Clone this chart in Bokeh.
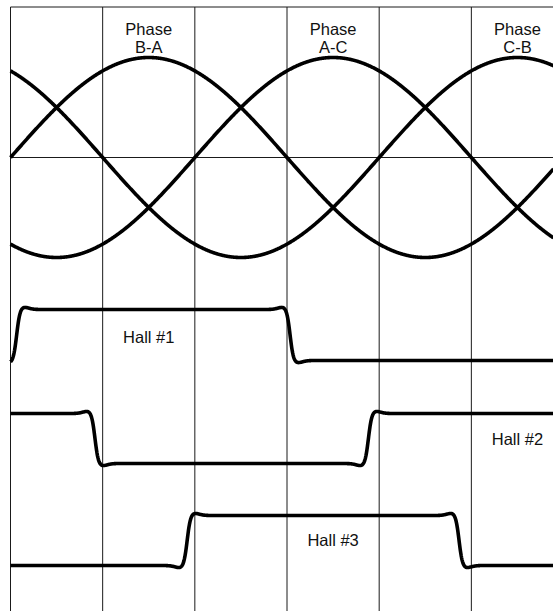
import numpy as np
from bokeh.plotting import figure
from bokeh.models import Range1d
from bokeh.embed import file_html
from bokeh.resources import INLINE
from bokeh.core.properties import value

# ---- data -------------------------------------------------------------
grid_angles = [0, 60, 120, 180, 240, 300]          # vertical grid lines (electrical degrees)
phase_names = ["B-A", "A-C", "C-B"]
phase_peak_deg = [90, 210, 330]                     # angle of each phase's positive peak
phase_amplitude = 1.0

hall_names = ["Hall #1", "Hall #2", "Hall #3"]
hall_high = [-1.52, -2.56, -3.58]
hall_low = [-2.03, -3.06, -4.08]
hall_start_high = [False, True, False]
hall_edges = [[4, 182], [55, 233], [115, 292]]      # transition angles
hall_label_x = [90, 330, 210]
hall_label_y = [-1.79, -2.81, -3.82]

phase_label_top_y = 1.29
phase_label_bot_y = 1.11
top_border_y = 1.505
zero_line_y = 0.0

# ---- figure -----------------------------------------------------------
W, H = 553, 611
PX_PER_DEG = 92.17 / 60.0
x0 = -10 / PX_PER_DEG
x1 = x0 + W / PX_PER_DEG
y_top = 1.57
y_bot = y_top - H / 100.0
p = figure(width=W, height=H,
           x_range=Range1d(x0, x1),
           y_range=Range1d(y_bot, y_top),
           x_axis_location=None, y_axis_location=None,
           min_border=0, min_border_left=0, min_border_right=0,
           min_border_top=0, min_border_bottom=0,
           output_backend="svg", toolbar_location=None, title=None)
p.grid.visible = False
p.outline_line_color = None
p.background_fill_color = "white"
p.border_fill_color = "white"

# grid
n = len(grid_angles)
p.segment(x0=grid_angles, y0=[top_border_y] * n, x1=grid_angles, y1=[y_bot - 1] * n,
          line_color="#1a1a1a", line_width=1)
p.segment(x0=[0, 0], y0=[top_border_y, zero_line_y], x1=[x1 + 10, x1 + 10],
          y1=[top_border_y, zero_line_y], line_color="#1a1a1a", line_width=1)

theta = np.linspace(0, x1, 1200)

# phase curves
for pk in phase_peak_deg:
    y = phase_amplitude * np.sin(np.radians(theta - pk + 90))
    p.line(theta, y, line_color="black", line_width=3.6, line_join="round")

# hall curves
def edge(th, a0):
    u = th - a0
    s = 0.5 * (1 + np.tanh(u / 2.2))
    w = u / 6.0
    return s + 0.12 * w * np.exp(-w * w)

for hi, lo, st, edges in zip(hall_high, hall_low, hall_start_high, hall_edges):
    state = np.full_like(theta, 1.0 if st else 0.0)
    direction = -1.0 if st else 1.0
    for e in edges:
        state = state + direction * edge(theta, e)
        direction = -direction
    y = lo + (hi - lo) * state
    p.line(theta, y, line_color="black", line_width=3.6, line_join="round")

font = value("Liberation Sans")
fs = value("16.5px")
p.text(x=phase_peak_deg, y=[phase_label_top_y] * 3, text=["Phase"] * 3,
       text_font=font, text_font_size=fs, text_align="center",
       text_baseline="alphabetic", text_color="#111111")
p.text(x=phase_peak_deg, y=[phase_label_bot_y] * 3, text=phase_names,
       text_font=font, text_font_size=fs, text_align="center",
       text_baseline="alphabetic", text_color="#111111")
p.text(x=hall_label_x, y=hall_label_y, text=hall_names,
       text_font=font, text_font_size=fs, text_align="center",
       text_baseline="alphabetic", text_color="#111111")

open("out.html", "w").write(file_html(p, INLINE))
